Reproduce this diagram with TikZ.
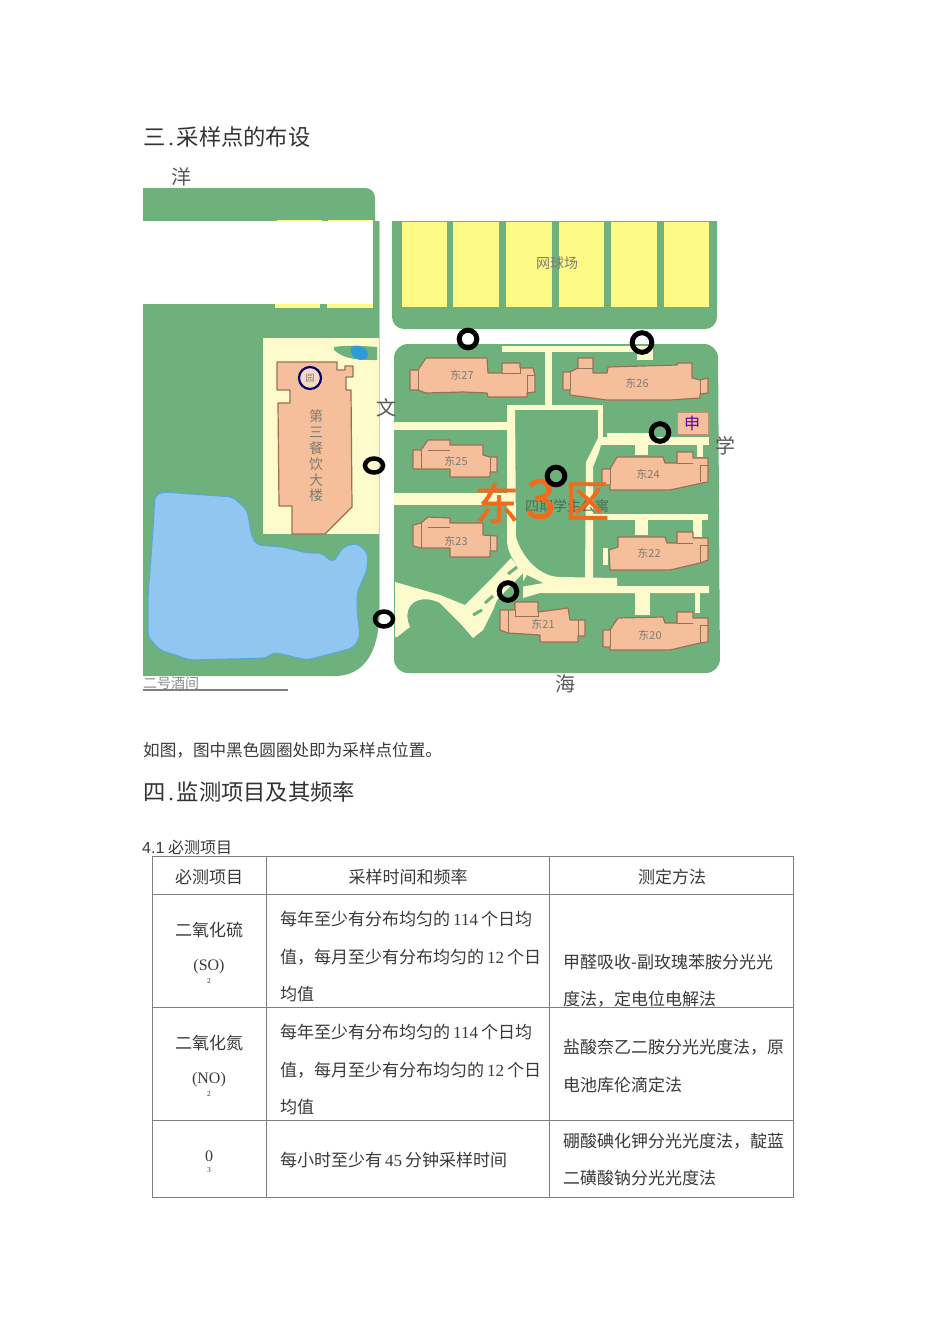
\documentclass[tikz,border=0pt]{standalone}
\usepackage{fontspec}
\setmainfont{Noto Sans CJK SC}
\newfontfamily\lat{Liberation Serif}
\newfontfamily\arial{Liberation Sans}
\newfontfamily\thick[FakeBold=1.6]{Noto Sans CJK SC}
\definecolor{grn}{HTML}{6FB17C}
\definecolor{crm}{HTML}{FDFBCB}
\definecolor{ylw}{HTML}{FDFB86}
\definecolor{lake}{HTML}{90C6F0}
\definecolor{lakeedge}{HTML}{55A9DA}
\definecolor{pond}{HTML}{2F9AD8}
\definecolor{bld}{HTML}{F6BF9C}
\definecolor{bldedge}{HTML}{9A7055}
\definecolor{org}{HTML}{F26A1C}
\definecolor{txt}{HTML}{3A3A3A}
\definecolor{maptxt}{HTML}{7C7C74}
\definecolor{dormtxt}{HTML}{4E6E5A}
\definecolor{rule}{HTML}{7F7F7F}
\newcommand{\hdot}{\makebox[11.2pt][c]{\lat .}}
\tikzset{
  road/.style={fill=crm,draw=none},
  green/.style={fill=grn,draw=none},
  court/.style={fill=ylw,draw=none},
  building/.style={fill=bld,draw=bldedge,line width=1.2pt,line join=round},
  ring/.style={draw=black,line width=5pt},
  body/.style={anchor=west,inner sep=0pt,text=txt,font=\fontsize{17}{20}\selectfont},
  cbody/.style={anchor=center,inner sep=0pt,text=txt,font=\fontsize{17}{20}\selectfont},
  head/.style={anchor=west,inner sep=0pt,text=black!80,font=\fontsize{22.3}{26}\selectfont},
  sub/.style={anchor=center,inner sep=0pt,text=txt,font=\lat\fontsize{7.5}{9}\selectfont},
  bname/.style={anchor=center,inner sep=0pt,text=maptxt,font=\fontsize{11}{12}\selectfont},
  mapname/.style={anchor=center,inner sep=0pt,text=maptxt,font=\fontsize{14}{16}\selectfont},
  edgename/.style={anchor=center,inner sep=0pt,text=black!65,font=\fontsize{20}{22}\selectfont},
  big/.style={anchor=center,inner sep=0pt,text=org,font=\thick\fontsize{44}{46}\selectfont},
  cell/.style={draw=rule,line width=.9pt},
}
\begin{document}
\begin{tikzpicture}[x=1pt,y=-1pt]
\useasboundingbox (0,0) rectangle (950,1344);
\fill[white] (0,0) rectangle (950,1344);

% ---- left green
\path[green] (143,188) -- (365,188) .. controls (371,188) and (375,192) .. (375,198) -- (375,225) -- (143,225) -- cycle;
\path[green] (373,221) -- (379,221) -- (379,615) .. controls (379,650) and (365,676) .. (335,676) -- (143,676) -- (143,304) -- (373,304) -- cycle;
\fill[white] (143,221) rectangle (373,304);
\fill[ylw] (277,219.5) rectangle (322,221);
\fill[ylw] (328,219.5) rectangle (373,221);
\fill[ylw] (275,304) rectangle (320,308);
\fill[ylw] (327,304) rectangle (373,308);
\draw[black!20,line width=1pt] (379.5,221) -- (379.5,620);
\path[road] (263,338) rectangle (379,534);
\path[green] (334,347) .. controls (345,345) and (365,346) .. (377,347) -- (377,360) .. controls (360,360) and (345,360) .. (334,350) -- cycle;
\fill[pond] (351,347) .. controls (356,344) and (364,346) .. (367,351) .. controls (370,357) and (366,360) .. (360,360) .. controls (354,359) and (349,353) .. (351,347) -- cycle;

% ---- canteen
\path[building] (277,362) -- (337,362) -- (337,370) -- (345,370) -- (345,366) -- (353,366) -- (353,377) -- (346,377) -- (346,390) -- (351,390) -- (352,507) -- (325,534) -- (292,534) -- (292,506) -- (279,506) -- (278,403) -- (290,403) -- (290,390) -- (277,390) -- cycle;
\draw[draw=blue!40!black,line width=2.2pt,fill=bld!60!white] (310,378) circle (11);
\node[anchor=center,inner sep=0pt,text=maptxt,font=\fontsize{9}{10}\selectfont] (logo) at (310,378) {园};
\node[anchor=center,inner sep=0pt,text=maptxt,align=center,font=\fontsize{14}{15.8}\selectfont] (canteen) at (316,456) {第\\三\\餐\\饮\\大\\楼};

% ---- lake
\path[fill=lake,draw=lakeedge,line width=1pt,rounded corners=5pt] (155,495) -- (163,492) -- (233,497) -- (247,510) -- (252,537) -- (257,545) -- (283,547) -- (307,553) -- (322,553) -- (333,563) -- (343,547) -- (357,543) -- (368,553) -- (367,570) -- (357,593) -- (357,610) -- (360,637) -- (353,648) -- (307,660) -- (273,652) -- (267,658) -- (190,660) -- (160,650) -- (148,637) -- (148,597) -- (153,530) -- cycle;

% ---- tennis block
\path[green,rounded corners=12pt] (392,205) -- (717,205) -- (717,329) -- (392,329) -- cycle;
\fill[white] (385,190) rectangle (725,221);
\foreach \xa/\xb in {402/447,453/499,506/552,559/604,611/657,664/709}
  \path[court] (\xa,222) rectangle (\xb,307);
\node[mapname] (tennis) at (557,263) {网球场};

% ---- residential block
\path[green,rounded corners=14pt] (394,344) -- (718,344) -- (720,673) -- (394,673) -- cycle;
% roads
\path[road] (502,346) rectangle (637,352);
\path[road] (637,346) rectangle (653,360);
\path[road] (545,350) rectangle (552,405);
\path[road] (507,405) rectangle (603,410);
\path[road] (598,405) rectangle (603,442);
\path[road] (394,422) rectangle (508,430);
\path[road] (394,493) rectangle (510,505);
\path[road] (607,433) rectangle (650,437);
\path[road] (600,437) rectangle (709,445);
\path[road] (635,445) rectangle (648,455);
\path[road] (697,445) rectangle (703,457);
\path[road] (603,438) -- (598,438) -- (592,450) -- (586,462) -- (585,578) -- (593,578) -- (593,467) -- (599,452) -- cycle;
\path[road] (593,514) rectangle (708,520);
\path[road] (635,518) rectangle (648,535);
\path[road] (693,520) rectangle (702,537);
\path[road] (603,548) rectangle (608,565);
\path[road] (507,405) -- (515,405) -- (516,537) .. controls (522,558) and (540,577) .. (560,577) -- (617,578) -- (617,586) -- (709,586) -- (709,593) -- (540,593) -- (523,598) -- (523,573) .. controls (512,560) and (507,550) .. (507,540) -- cycle;
\path[road] (635,593) rectangle (650,615);
\path[road] (695,593) rectangle (700,613);
\path[road] (395,582) -- (440,595) -- (465,605) -- (495,575) -- (511,558) -- (523,573) -- (497,600) -- (493,610) -- (483,630) -- (473,638) -- (460,623) -- (440,603) .. controls (430,598) and (420,598) .. (413,603) .. controls (405,610) and (407,620) .. (410,627) -- (397,637) -- (395,637) -- cycle;
\foreach \xa/\ya/\xb/\yb in {473/615/482/610,485/603/493/596,508/574/517/567}
  \draw[grn,line width=3pt] (\xa,\ya) -- (\xb,\yb);
\path[green] (520,587) -- (543,583) -- (527,575) -- cycle;

% ---- buildings
\path[building] (410,370) -- (418,370) -- (426,358) -- (487,358) -- (488,373) -- (502,373) -- (502,363) -- (520,363) -- (520,368) -- (533,368) -- (535,375) -- (535,392) -- (527,393) -- (527,397) -- (488,397) -- (487,393) -- (463,392) -- (426,393) -- (418,390) -- (410,390) -- cycle;
\draw[bldedge,line width=.8pt] (502,373) -- (520,373) -- (520,368) (527,375) -- (535,375) (527,375) -- (527,393) (418,370) -- (418,390);
\path[building] (563,372) -- (570,372) -- (578,368) -- (578,358) -- (593,358) -- (593,373) -- (607,373) -- (608,367) -- (677,365) -- (678,363) -- (692,363) -- (692,378) -- (700,380) -- (708,378) -- (708,393) -- (700,394) -- (700,398) -- (670,400) -- (607,400) -- (570,395) -- (570,390) -- (563,390) -- cycle;
\draw[bldedge,line width=.8pt] (570,372) -- (570,390) (578,368) -- (593,368) (700,380) -- (700,394);
\path[fill=bld,draw=bldedge!60!bld,line width=.8pt] (677,412) rectangle (708,434);
\path[building] (413,450) -- (421,450) -- (428,440) -- (450,440) -- (450,445) -- (483,445) -- (483,455) -- (490,457) -- (497,457) -- (497,472) -- (490,472) -- (490,477) -- (450,477) -- (450,469) -- (421,469) -- (413,469) -- cycle;
\draw[bldedge,line width=.8pt] (421,450) -- (421,469) (428,450) -- (450,450) (490,457) -- (490,472);
\path[building] (413,525) -- (421,523) -- (428,517) -- (450,518) -- (450,523) -- (483,523) -- (483,535) -- (497,536) -- (497,551) -- (490,551) -- (490,557) -- (450,557) -- (450,548) -- (421,548) -- (413,546) -- cycle;
\draw[bldedge,line width=.8pt] (421,523) -- (421,548) (428,527) -- (450,527) (490,536) -- (490,551);
\path[building] (602,469) -- (610,469) -- (617,457) -- (663,457) -- (665,463) -- (677,463) -- (677,452) -- (693,452) -- (693,458) -- (708,458) -- (708,482) -- (702,483) -- (670,490) -- (610,490) -- (610,485) -- (602,485) -- cycle;
\draw[bldedge,line width=.8pt] (610,469) -- (610,485) (677,463) -- (693,463) (700,465) -- (708,465) (700,465) -- (700,482);
\path[building] (609,550) -- (618,547) -- (618,537) -- (665,537) -- (667,543) -- (677,543) -- (677,532) -- (693,532) -- (693,538) -- (708,538) -- (708,560) -- (700,563) -- (670,570) -- (610,570) -- cycle;
\draw[bldedge,line width=.8pt] (677,543) -- (693,543) (700,545) -- (708,545) (700,545) -- (700,563);
\path[building] (603,630) -- (610,630) -- (618,618) -- (663,617) -- (665,623) -- (677,623) -- (677,612) -- (693,612) -- (693,618) -- (708,618) -- (708,642) -- (700,643) -- (670,650) -- (610,650) -- (610,647) -- (603,647) -- cycle;
\draw[bldedge,line width=.8pt] (610,630) -- (610,647) (677,623) -- (693,623) (700,625) -- (708,625) (700,625) -- (700,643);
\path[building] (500,610) -- (515,610) -- (515,602) -- (538,602) -- (538,612) -- (568,608) -- (570,620) -- (585,620) -- (585,636) -- (578,636) -- (578,642) -- (540,642) -- (540,635) -- (508,633) -- (500,630) -- cycle;
\draw[bldedge,line width=.8pt] (508,610) -- (508,633) (515,610) -- (515,616) -- (538,616) -- (538,612) (578,620) -- (578,636);

\node[bname] (d27) at (462,375) {东27};
\node[bname] (d26) at (637,383) {东26};
\node[bname] (d25) at (456,461) {东25};
\node[bname] (d24) at (648,474) {东24};
\node[bname] (d23) at (456,541) {东23};
\node[bname] (d22) at (649,553) {东22};
\node[bname] (d21) at (543,624) {东21};
\node[bname] (d20) at (650,635) {东20};
\node[anchor=center,inner sep=0pt,text=violet!70!blue,font=\fontsize{16}{18}\selectfont] (post) at (692,423) {申};
\node[mapname,text=dormtxt] (dorm) at (567,506) {四期学生公寓};

\node[edgename] (n1) at (181,177) {洋};
\node[edgename] (n2) at (386,408) {文};
\node[edgename] (n3) at (725,446) {学};
\node[edgename] (n4) at (565,684) {海};
\node[anchor=west,inner sep=0pt,text=black!45,font=\fontsize{14}{16}\selectfont] (lakename) at (143,683) {二号酒间};
\draw[black!50,line width=1.5pt] (143,690) -- (288,690);

% ---- orange handwriting
\node[big] (w1) at (497,503) {东};
\node[big,font=\thick\fontsize{54}{56}\selectfont] (w2) at (541,499) {3};
\node[big] (w3) at (587,501) {区};

% ---- sampling points
\draw[ring] (468,339) circle (8.8);
\draw[ring] (642,342.5) circle (9.8);
\draw[ring] (660,432.5) circle (8.8);
\draw[ring,line width=4.5pt] (374,465.5) ellipse (9 and 7);
\draw[ring,line width=4.5pt] (384,619) ellipse (9 and 7.5);
\draw[ring] (556,476) circle (8.8);
\draw[ring] (508,591.5) circle (8.8);

% ---- text
\node[head] (h3) at (143,137) {三\hdot 采样点的布设};
\node[body,font=\fontsize{16.6}{20}\selectfont] (cap) at (143,750) {如图，图中黑色圆圈处即为采样点位置。};
\node[head] (h4) at (143,792) {四\hdot 监测项目及其频率};
\node[body,font=\fontsize{16}{20}\selectfont] (t41) at (142,847) {{\arial 4.1} 必测项目};

% ---- table
\draw[cell] (152,856) rectangle (793.5,1197);
\draw[cell] (152,894.5) -- (793.5,894.5);
\draw[cell] (152,1007.5) -- (793.5,1007.5);
\draw[cell] (152,1120.5) -- (793.5,1120.5);
\draw[cell] (266.5,856) -- (266.5,1197);
\draw[cell] (549.5,856) -- (549.5,1197);

\node[cbody] (c00) at (209,877) {必测项目};
\node[cbody] (c01) at (408,877) {采样时间和频率};
\node[cbody] (c02) at (672,877) {测定方法};

\node[cbody] (c10) at (209,930) {二氧化硫};
\node[cbody,font=\lat\fontsize{16}{20}\selectfont] (c10b) at (209,967) {(SO)};
\node[sub] (c10c) at (209,981) {2};
\node[body] (c11a) at (280,919.5) {每年至少有分布均匀的\hspace{3pt}{\lat 114}\hspace{3pt}个日均};
\node[body] (c11b) at (280,957) {值，每月至少有分布均匀的\hspace{3pt}{\lat 12}\hspace{3pt}个日};
\node[body] (c11c) at (280,994.5) {均值};
\node[body] (c12a) at (563,962) {甲醛吸收-副玫瑰苯胺分光光};
\node[body] (c12b) at (563,999) {度法，定电位电解法};

\node[cbody] (c20) at (209,1043) {二氧化氮};
\node[cbody,font=\lat\fontsize{16}{20}\selectfont] (c20b) at (209,1080) {(NO)};
\node[sub] (c20c) at (209,1094) {2};
\node[body] (c21a) at (280,1032.5) {每年至少有分布均匀的\hspace{3pt}{\lat 114}\hspace{3pt}个日均};
\node[body] (c21b) at (280,1070) {值，每月至少有分布均匀的\hspace{3pt}{\lat 12}\hspace{3pt}个日};
\node[body] (c21c) at (280,1107.5) {均值};
\node[body] (c22a) at (563,1047) {盐酸奈乙二胺分光光度法，原};
\node[body] (c22b) at (563,1085) {电池库伦滴定法};

\node[cbody,font=\lat\fontsize{16}{20}\selectfont] (c30) at (209,1156) {0};
\node[sub] (c30c) at (209,1170) {3};
\node[body] (c31) at (280,1160) {每小时至少有\hspace{3pt}{\lat 45}\hspace{3pt}分钟采样时间};
\node[body] (c32a) at (563,1141) {硼酸碘化钾分光光度法，靛蓝};
\node[body] (c32b) at (563,1178) {二磺酸钠分光光度法};
\end{tikzpicture}
\end{document}
